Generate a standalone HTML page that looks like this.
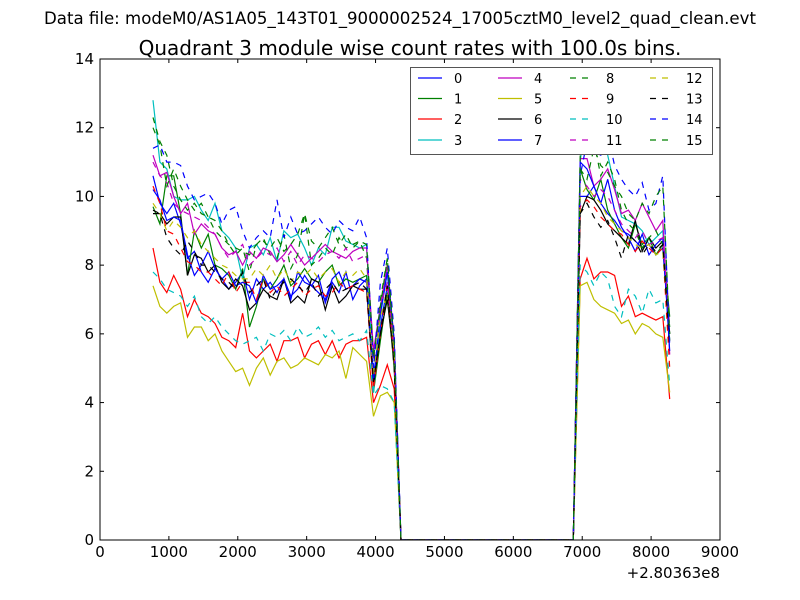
<!DOCTYPE html>
<html><head><meta charset="utf-8"><style>
body{margin:0;background:#fff;}
svg{display:block;font-family:"DejaVu Sans","Liberation Sans",sans-serif;}
</style></head><body>
<svg id="chart" width="800" height="600"></svg>
<script>
const timesA=[770,870,970,1070,1170,1270,1370,1470,1570,1670,1770,1870,1970,2070,2170,2270,2370,2470,2570,2670,2770,2870,2970,3070,3170,3270,3370,3470,3570,3670,3770,3870,3970,4070,4170,4270,4370];
const timesGap=[4470,4570,4670,4770,4870,4970,5070,5170,5270,5370,5470,5570,5670,5770,5870,5970,6070,6170,6270,6370,6470,6570,6670,6770,6870];
const valuesGap=[0,0,0,0,0,0,0,0,0,0,0,0,0,0,0,0,0,0,0,0,0,0,0,0,0];
const timesB=[6970,7070,7170,7270,7370,7470,7570,7670,7770,7870,7970,8070,8170,8270];
const seriesNames=["0","1","2","3","4","5","6","7","8","9","10","11","12","13","14","15"];
const valuesA=[
[10.6,9.8,9.5,9.8,9.2,8.2,8.4,7.8,7.5,7.9,7.6,7.3,7.5,7.8,7.0,7.6,7.3,7.5,7.2,7.6,7.1,7.3,7.7,7.4,7.7,6.9,7.5,7.2,7.8,7.0,7.4,7.6,4.8,6.2,7.4,5.5,0],
[9.7,9.2,10.6,10.6,9.5,7.7,9.0,8.5,8.9,8.0,7.9,7.7,7.3,7.9,6.2,6.8,7.6,7.3,7.6,8.0,7.4,7.6,7.9,7.6,7.5,7.8,8.0,7.4,7.6,7.5,7.6,7.7,4.3,5.8,7.2,5.0,0],
[8.5,7.5,7.2,7.7,7.3,6.5,7.0,6.6,6.5,6.3,5.9,5.8,5.6,6.6,5.5,5.3,5.5,5.7,5.2,5.8,5.8,5.9,5.3,5.7,5.8,5.4,5.8,5.3,5.7,5.8,5.8,5.9,4.0,4.5,5.1,4.4,0],
[12.8,11.0,10.8,10.0,9.9,9.9,10.0,9.6,9.3,9.8,9.0,8.8,8.5,7.6,8.5,8.6,8.3,8.8,8.1,9.0,8.8,8.9,8.5,8.0,8.5,8.3,9.1,9.1,8.7,8.6,8.5,8.6,4.3,6.5,7.8,5.5,0],
[11.2,10.6,10.7,10.0,9.5,9.8,8.9,9.2,9.0,8.9,8.5,8.3,8.4,8.0,8.4,8.2,8.5,8.4,8.1,8.3,8.6,8.3,8.0,8.2,8.4,8.6,8.4,8.3,8.2,8.4,8.5,8.5,5.5,6.8,8.0,5.8,0],
[7.4,6.8,6.6,6.8,6.9,5.9,6.2,6.2,5.8,6.0,5.5,5.2,4.9,5.0,4.5,5.0,5.3,4.8,5.2,5.3,5.0,5.1,5.3,5.2,5.1,5.4,5.3,5.5,4.7,5.6,5.4,5.2,3.6,4.2,4.3,4.0,0],
[9.5,9.5,9.2,9.4,9.4,7.7,8.3,8.2,7.8,8.0,7.5,7.3,7.6,7.4,6.7,6.9,7.3,7.1,7.0,7.6,6.9,7.1,6.9,7.6,7.5,6.7,7.4,6.9,7.1,7.4,7.3,7.3,4.5,6.0,7.0,5.2,0],
[10.2,9.9,9.3,9.4,9.3,8.3,7.7,8.0,8.4,7.9,7.6,7.8,7.4,7.5,7.4,6.9,7.7,7.3,7.4,7.6,7.0,7.8,7.5,7.4,7.2,7.0,7.6,7.8,7.3,7.4,7.6,7.5,4.6,6.6,7.8,5.8,0],
[12.3,11.6,11.2,10.3,9.9,9.6,9.8,9.5,9.4,9.3,9.0,8.6,8.3,8.5,7.8,8.6,8.8,8.3,8.2,8.9,7.9,8.3,9.5,8.0,8.2,8.5,8.3,8.8,8.5,8.6,8.7,8.2,5.0,7.0,8.2,5.5,0],
[10.3,9.8,9.0,8.9,8.5,8.1,8.0,7.8,7.8,7.6,7.4,7.8,7.2,7.5,7.5,7.0,7.6,7.2,7.4,7.1,7.3,7.5,7.1,7.3,7.4,7.1,7.2,7.5,7.3,7.4,7.3,7.2,4.4,6.0,7.5,5.2,0],
[7.8,7.6,7.3,7.2,7.1,6.8,7.1,6.5,6.3,6.5,6.2,6.0,5.8,5.7,5.8,5.9,5.5,6.0,5.9,6.1,5.8,6.2,5.9,6.0,6.2,5.9,6.1,5.8,5.9,6.0,5.8,6.1,4.2,4.5,4.4,4.0,0],
[11.0,10.6,10.4,9.8,9.6,9.5,9.4,9.3,9.1,8.9,8.5,8.2,8.4,8.6,8.0,8.2,8.4,8.3,8.5,8.1,8.4,8.0,8.3,8.2,8.1,8.3,8.4,8.2,8.5,8.1,8.2,8.3,5.2,6.8,7.5,5.6,0],
[9.8,9.5,9.0,9.3,9.1,8.8,9.0,8.6,8.4,8.2,8.0,7.9,7.7,7.6,7.6,7.9,7.7,8.0,7.6,7.9,7.5,7.8,7.7,7.9,7.6,7.8,7.9,7.5,7.8,7.7,7.9,7.6,4.8,6.5,7.2,5.4,0],
[9.6,9.5,8.8,8.5,8.3,8.7,8.4,8.0,8.0,7.8,7.6,7.5,7.3,7.8,7.2,7.4,7.6,7.0,7.3,7.5,7.6,7.4,7.2,7.5,7.1,7.3,7.5,7.2,7.3,7.4,7.5,7.3,4.6,6.0,7.4,5.0,0],
[11.4,11.5,11.0,11.0,10.9,10.3,9.9,10.0,10.1,9.8,9.2,9.6,9.7,9.0,8.5,8.8,9.0,8.8,9.9,8.8,9.4,8.9,9.0,9.2,9.4,9.1,8.9,9.3,9.1,9.0,9.4,8.8,5.0,7.5,8.5,6.0,0],
[12.0,11.5,10.3,10.8,10.3,9.9,9.6,9.8,9.4,9.0,8.8,8.6,8.5,8.4,8.3,8.6,8.7,8.5,8.8,8.4,8.6,8.9,9.5,8.7,8.5,8.8,9.1,8.6,8.9,8.5,8.7,8.6,5.3,6.8,8.2,5.7,0]
];
const valuesB=[
[10.0,10.0,10.3,9.8,9.5,9.3,9.0,8.9,8.7,8.5,8.6,8.3,8.5,5.8],
[10.8,10.2,9.9,10.5,9.6,9.2,8.8,8.5,9.2,8.6,8.8,8.3,8.6,6.5],
[7.6,8.2,7.6,7.8,7.8,7.7,6.8,7.1,6.5,6.6,6.5,6.4,6.5,4.1],
[11.0,12.7,12.2,12.0,11.2,10.3,9.4,9.3,9.2,9.0,8.6,8.8,9.0,5.8],
[11.1,11.1,10.3,10.5,10.8,10.2,9.5,9.6,9.3,9.8,9.4,9.0,9.3,5.4],
[7.4,7.5,7.0,6.8,6.7,6.6,6.3,6.4,6.0,6.3,6.2,6.0,5.9,4.3],
[9.5,10.0,9.9,9.6,9.2,9.0,8.8,8.6,9.3,8.4,8.8,8.5,8.7,6.0],
[11.0,10.8,10.3,9.8,10.5,9.6,9.1,8.8,8.4,8.9,8.3,8.6,8.8,5.5],
[11.2,11.5,11.6,10.6,11.0,10.5,9.6,9.2,9.0,8.5,8.8,9.0,8.6,6.2],
[9.7,9.9,9.7,9.4,9.2,9.0,8.9,8.6,8.4,8.7,8.5,8.3,8.5,5.0],
[8.0,7.8,7.4,7.8,7.6,6.8,6.5,7.3,7.1,6.6,7.3,6.9,7.0,4.5],
[10.5,10.3,10.0,10.2,10.0,9.6,9.2,9.0,8.8,9.0,8.6,8.7,8.8,6.2],
[10.0,10.3,10.0,9.8,9.4,9.2,9.0,8.8,8.6,8.5,8.6,8.3,8.4,5.8],
[9.5,9.8,9.4,9.1,9.3,8.8,8.2,8.9,8.7,8.3,8.6,8.4,8.6,5.6],
[10.6,11.6,11.3,11.2,11.8,10.9,10.5,10.2,10.0,10.4,9.6,9.8,10.6,5.7],
[10.8,10.5,11.4,10.9,10.7,10.3,10.0,9.5,9.3,9.8,9.5,10.0,10.3,6.0]
];
const xTicks=[0,1000,2000,3000,4000,5000,6000,7000,8000,9000];
const yTicks=[0,2,4,6,8,10,12,14];
const colors=["#0000ff","#008000","#ff0000","#00bfbf","#bf00bf","#bfbf00","#000000","#0000ff","#008000","#ff0000","#00bfbf","#bf00bf","#bfbf00","#000000","#0000ff","#008000"];
const dashed=[false,false,false,false,false,false,false,false,true,true,true,true,true,true,true,true];

const L=100,R=720,T=59,B=540;
const xS=v=>L+(v/9000)*(R-L);
const yS=v=>B-(v/14)*(B-T);
const svg=document.getElementById('chart');
const NS="http://www.w3.org/2000/svg";
function mk(tag,attrs,parent){const e=document.createElementNS(NS,tag);for(const k in attrs)e.setAttribute(k,attrs[k]);(parent||svg).appendChild(e);return e;}

let t=mk('text',{x:400,y:24,'text-anchor':'middle','font-size':16.6});t.textContent="Data file: modeM0/AS1A05_143T01_9000002524_17005cztM0_level2_quad_clean.evt";


t=mk('text',{x:410,y:55,'text-anchor':'middle','font-size':20});t.textContent="Quadrant 3 module wise count rates with 100.0s bins.";



const clip=mk('clipPath',{id:'pc'});mk('rect',{x:L,y:T,width:R-L,height:B-T},clip);
const lines=mk('g',{'clip-path':'url(#pc)'});


for(let s=0;s<16;s++){
  const xs=timesA.concat(timesGap,timesB), ys=valuesA[s].concat(valuesGap,valuesB[s]);
  const d=xs.map((x,i)=>(i?'L':'M')+xS(x).toFixed(1)+','+yS(ys[i]).toFixed(1)).join('');
  const p=mk('path',{d:d,fill:'none',stroke:colors[s],'stroke-width':1.2,'stroke-dasharray':dashed[s]?'6,6':'none'},lines);
  
  
}
const frame=mk('rect',{x:L,y:T,width:R-L,height:B-T,fill:'none',stroke:'#000','stroke-width':1});


const xa=mk('g',{});


xTicks.forEach(v=>{const x=xS(v);mk('line',{x1:x,x2:x,y1:B,y2:B-4,stroke:'#000'},xa);mk('line',{x1:x,x2:x,y1:T,y2:T+4,stroke:'#000'},xa);
 const l=mk('text',{x:x,y:557,'text-anchor':'middle','font-size':15},xa);l.textContent=v;
 
 });
t=mk('text',{x:720,y:578,'text-anchor':'end','font-size':15},xa);t.textContent="+2.80363e8";


const ya=mk('g',{});


yTicks.forEach(v=>{const y=yS(v);mk('line',{x1:L,x2:L+4,y1:y,y2:y,stroke:'#000'},ya);mk('line',{x1:R,x2:R-4,y1:y,y2:y,stroke:'#000'},ya);
 const l=mk('text',{x:L-6,y:y+5,'text-anchor':'end','font-size':15},ya);l.textContent=v;
 
 });

const lg=mk('g',{});


mk('rect',{x:410.5,y:67.5,width:302,height:87,fill:'#fff',stroke:'#555'},lg);
const colX=[418,498,570,650], rowY=[78,98.5,119,140];
for(let s=0;s<16;s++){
  const c=Math.floor(s/4), r=s%4, x=colX[c], y=rowY[r];
  const e=mk('g',{},lg);
  
  
  mk('line',{x1:x,x2:x+24,y1:y,y2:y,stroke:colors[s],'stroke-width':1.2,'stroke-dasharray':dashed[s]?'6,6':'none'},e);
  const tx=mk('text',{x:x+36,y:y+5,'font-size':13},e);tx.textContent=seriesNames[s];
}
</script>
</body></html>
